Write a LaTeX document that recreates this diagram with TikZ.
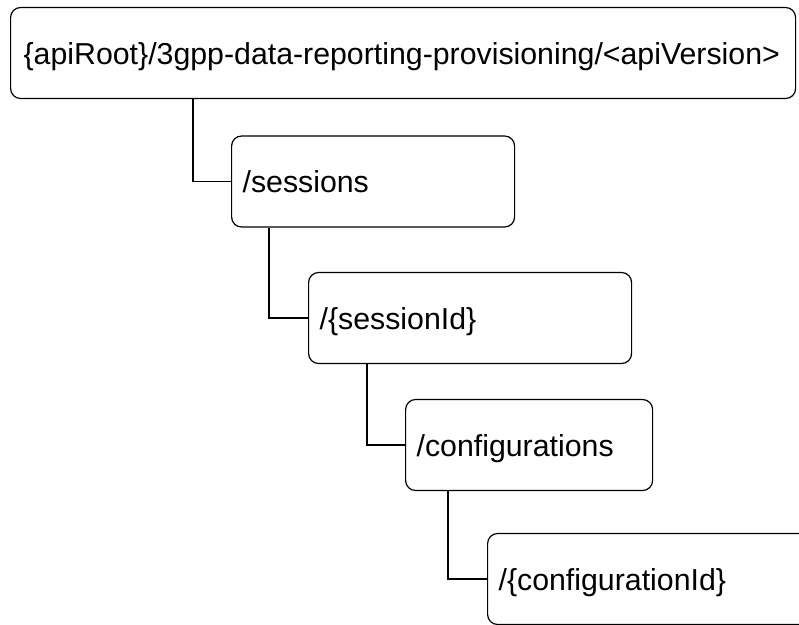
\documentclass[tikz,border=0pt]{standalone}
\usepackage{fontspec}
\setmainfont{Liberation Sans}
\usepackage{tikz}
\usetikzlibrary{calc}
\usetikzlibrary{positioning}

\tikzset{
    res/.style={draw, line width=1.2pt, rounded corners=10pt, anchor=west,
        minimum height=91pt, inner xsep=11pt, text width=#1, align=left,
        text height=22pt, text depth=0pt,
        font=\fontsize{30.3}{36}\selectfont},
    link/.style={draw, line width=1.2pt}
}

\begin{document}
\begin{tikzpicture}[x=1pt, y=-1pt]
        \useasboundingbox (0,0) rectangle (799,624);
        \node[res=759pt, inner xsep=13pt] (root) at (10,53) {\{apiRoot\}/3gpp-data-reporting-provisioning/<apiVersion>};
        \node[res=261pt] (sess) at (231,181.5) {/sessions};
        \node[res=301pt] (sid) at (308,318) {/\{sessionId\}};
        \node[res=225pt] (conf) at (405,445) {/configurations};
        \node[res=400pt] (cid) at (487,579) {/\{configurationId\}};
        \foreach \a/\b/\d in {root/sess/183, sess/sid/38, sid/conf/59, conf/cid/43} {
            \draw[link] ($(\a.south west)+(\d,0)$) |- (\b.west);
        }
    \end{tikzpicture}
\end{document}
